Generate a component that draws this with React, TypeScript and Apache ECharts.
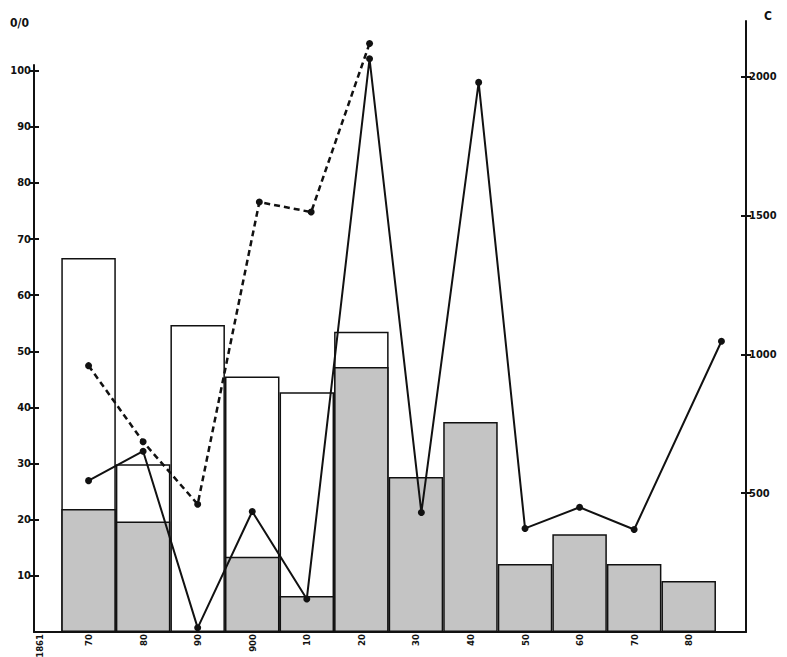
import React, { useEffect, useRef } from "react";
import * as echarts from "echarts";

// x-axis tick labels and their years
const categories = ["1861", "70", "80", "90", "900", "10", "20", "30", "40", "50", "60", "70", "80"];
const labelYears = [1861, 1870, 1880, 1890, 1900, 1910, 1920, 1930, 1940, 1950, 1960, 1970, 1980];

// y-axis tick values
const leftTicks = [10, 20, 30, 40, 50, 60, 70, 80, 90, 100];
const rightTicks = [500, 1000, 1500, 2000];

// bars (left axis, %)
const barYears = [1870, 1880, 1890, 1900, 1910, 1920, 1930, 1940, 1950, 1960, 1970, 1980];
const outlineShare = [66.6, 29.9, 54.7, 45.5, 42.7, 53.5, null, null, null, null, null, null];
const shadedShare = [21.9, 19.7, null, 13.4, 6.4, 47.2, 27.6, 37.4, 12.1, 17.4, 12.1, 9.1];

// solid line (right axis, C)
const solidYears = [1870, 1880, 1890, 1900, 1910, 1921.5, 1931, 1941.5, 1950, 1960, 1970, 1986];
const solidValues = [545, 651, 15, 434, 119, 2064, 430, 1979, 373, 449, 369, 1047];

// dashed line (right axis, C)
const dashedYears = [1870, 1880, 1890, 1901.3, 1910.8, 1921.5];
const dashedValues = [959, 685, 460, 1548, 1512, 2119];

const FONT = '"DejaVu Sans Condensed", "Liberation Sans Narrow", "DejaVu Sans", sans-serif';

export default function App() {
  const ref = useRef<HTMLDivElement>(null);
  useEffect(() => {
    document.body.style.margin = "0";
    const chart = echarts.init(ref.current!, null, { renderer: "svg" });
    const ink = "#111";
    const labelStyle = { fontFamily: FONT, fontWeight: "bold" as const, fontSize: 11, color: ink };
    const tickStyle = { color: ink, width: 2 };
    const plain = (v: number) => String(v);
    chart.setOption({
      animation: false,
      backgroundColor: "#ffffff",
      grid: [
        { left: 34, right: 41, top: 65, bottom: 25, outerBoundsMode: "none", containLabel: false },
        { left: 34, right: 41, top: 21, bottom: 25, outerBoundsMode: "none", containLabel: false },
      ],
      xAxis: [
        {
          type: "value",
          gridIndex: 0,
          min: 1860,
          max: 1990.5,
          axisLine: { show: true, onZero: false, lineStyle: { color: ink, width: 2 } },
          axisTick: { show: false },
          splitLine: { show: false },
          axisLabel: {
            ...labelStyle,
            fontSize: 9.5,
            customValues: labelYears,
            formatter: (v: number) => {
              const i = labelYears.indexOf(Math.round(v));
              return i >= 0 ? categories[i] : "";
            },
            rotate: 90,
            margin: 2,
          },
        },
        { type: "value", gridIndex: 1, min: 1860, max: 1990.5, show: false },
      ],
      yAxis: [
        {
          type: "value",
          gridIndex: 0,
          position: "left",
          min: 0,
          max: 101,
          axisLine: { show: true, lineStyle: { color: ink, width: 2 } },
          axisTick: { show: true, length: 5, lineStyle: tickStyle, customValues: leftTicks },
          axisLabel: { ...labelStyle, margin: 3, customValues: leftTicks, formatter: plain },
          splitLine: { show: false },
        },
        {
          type: "value",
          gridIndex: 1,
          position: "right",
          min: 0,
          max: 2200,
          axisLine: { show: true, lineStyle: { color: ink, width: 2 } },
          axisTick: { show: true, length: 5, lineStyle: tickStyle, customValues: rightTicks },
          axisLabel: { ...labelStyle, margin: 3, customValues: rightTicks, formatter: plain },
          splitLine: { show: false },
        },
        {
          type: "value",
          gridIndex: 0,
          position: "left",
          min: 0,
          max: 101,
          axisLine: { show: false },
          axisTick: { show: true, inside: true, length: 5, lineStyle: tickStyle, customValues: leftTicks },
          axisLabel: { show: false },
          splitLine: { show: false },
        },
        {
          type: "value",
          gridIndex: 1,
          position: "right",
          min: 0,
          max: 2200,
          axisLine: { show: false },
          axisTick: { show: true, inside: true, length: 5, lineStyle: tickStyle, customValues: rightTicks },
          axisLabel: { show: false },
          splitLine: { show: false },
        },
      ],
      graphic: [
        { type: "text", left: 10, top: 17, style: { text: "0/0", ...labelStyle, fill: ink, fontSize: 12 } },
        { type: "text", left: 764, top: 10, style: { text: "C", ...labelStyle, fill: ink, fontSize: 12 } },
      ],
      series: [
        {
          type: "bar",
          xAxisIndex: 0,
          yAxisIndex: 0,
          barWidth: 54.5,
          barGap: "-100%",
          z: 2,
          data: barYears.map((y, i) => [y, outlineShare[i]]),
          itemStyle: { color: "#ffffff", borderColor: ink, borderWidth: 1.5 },
        },
        {
          type: "bar",
          xAxisIndex: 0,
          yAxisIndex: 0,
          barWidth: 54.5,
          barGap: "-100%",
          z: 3,
          data: barYears.map((y, i) => [y, shadedShare[i]]),
          itemStyle: { color: "#c4c4c4", borderColor: ink, borderWidth: 1.5 },
        },
        {
          type: "line",
          xAxisIndex: 1,
          yAxisIndex: 1,
          z: 6,
          data: solidYears.map((y, i) => [y, solidValues[i]]),
          symbol: "circle",
          symbolSize: 7,
          lineStyle: { color: ink, width: 2 },
          itemStyle: { color: ink },
        },
        {
          type: "line",
          xAxisIndex: 1,
          yAxisIndex: 1,
          z: 6,
          data: dashedYears.map((y, i) => [y, dashedValues[i]]),
          symbol: "circle",
          symbolSize: 7,
          lineStyle: { color: ink, width: 2.5, type: [6, 4] },
          itemStyle: { color: ink },
        },
      ],
    });
    return () => chart.dispose();
  }, []);
  return <div ref={ref} style={{ width: 787, height: 657 }} />;
}
